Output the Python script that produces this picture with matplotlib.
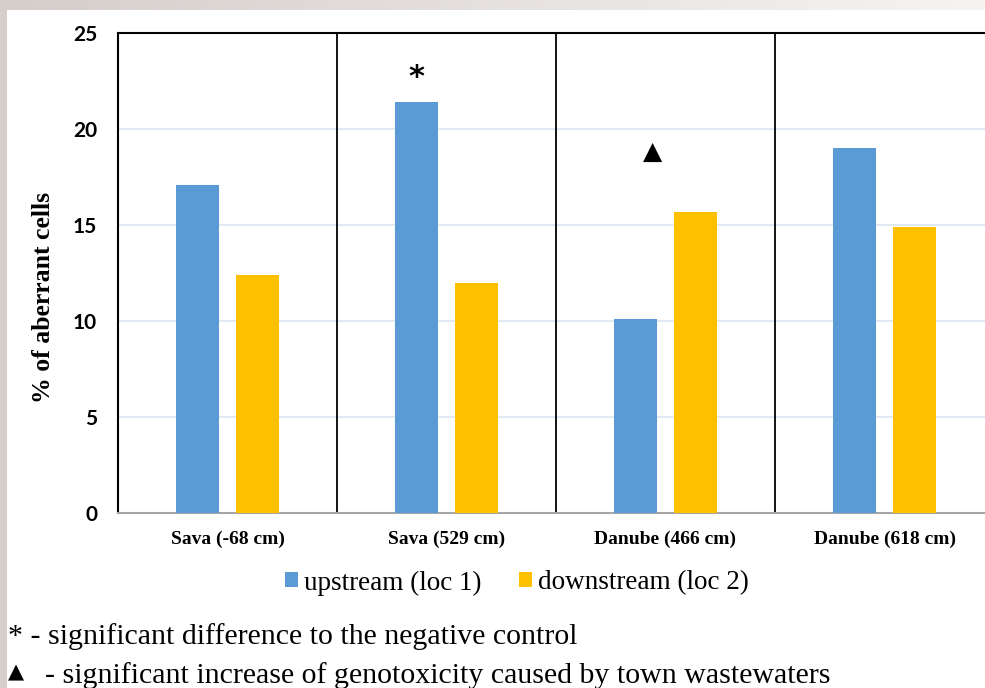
import matplotlib
matplotlib.use("Agg")
import matplotlib.pyplot as plt
import numpy as np

categories = ["Sava (-68 cm)", "Sava (529 cm)", "Danube (466 cm)", "Danube (618 cm)"]
upstream = [17.1, 21.4, 10.1, 19.0]
downstream = [12.4, 12.0, 15.7, 14.9]
series_names = ["upstream (loc 1)", "downstream (loc 2)"]
yticks = [0, 5, 10, 15, 20, 25]

BLUE = "#5B9BD5"
ORANGE = "#FFC000"

fig = plt.figure(figsize=(9.85, 6.88), dpi=100)

# slide-like background: gray gradient border on top and left
bg = fig.add_axes([0, 0, 1, 1], zorder=-10)
bg.set_axis_off()
W, H = 985, 688
img = np.ones((H, W, 3))
c0 = np.array([213, 206, 203]) / 255.0
c1 = np.array([246, 244, 242]) / 255.0
t = np.linspace(0, 1, W)[:, None]
grad = c0 * (1 - t) + c1 * t
img[:10, :, :] = grad[None, :, :]
img[:, :7, :] = c0
bg.imshow(img, aspect="auto", extent=[0, W, H, 0])
bg.set_xlim(0, W)
bg.set_ylim(H, 0)

ax = fig.add_axes([118 / 985, 1 - 513 / 688, 876 / 985, 480 / 688])
x = np.arange(len(categories))
w = 0.196
off = 0.139
ax.bar(x - off, upstream, width=w, color=BLUE, zorder=3, label=series_names[0])
ax.bar(x + off, downstream, width=w, color=ORANGE, zorder=3, label=series_names[1])

ax.set_xlim(-0.5, len(categories) - 0.5)
ax.set_ylim(0, 25)
ax.set_yticks(yticks)
ax.set_yticklabels([str(v) for v in yticks], fontfamily="Lato", fontweight="bold", fontsize=15)
ax.tick_params(axis="y", length=0, pad=15)
ax.set_xticks(x)
ax.set_xticklabels(categories, fontfamily="Liberation Serif", fontweight="bold", fontsize=14)
ax.tick_params(axis="x", length=0, pad=13)

for yv in yticks[1:-1]:
    ax.axhline(yv, color="#DCE6F2", lw=1.2, zorder=1)
for xv in [0.5, 1.5, 2.5]:
    ax.axvline(xv, color="black", lw=1.3, zorder=2)

for s in ["left", "top", "right"]:
    ax.spines[s].set_color("black")
    ax.spines[s].set_linewidth(1.5)
ax.spines["bottom"].set_color("#A6A6A6")
ax.spines["bottom"].set_linewidth(1.5)

ax.set_ylabel("% of aberrant cells", fontfamily="Liberation Serif", fontweight="bold", fontsize=18.5)
ax.yaxis.set_label_coords(-0.072, 0.45)

ax.text(1 - off, 22.7, "*", ha="center", va="center", fontsize=22, fontweight="bold", color="black")
ax.text(2 - 0.06, 18.8, "\u25B2", ha="center", va="center", fontsize=18, family="DejaVu Sans", color="black")

fig.legend(loc="center", bbox_to_anchor=(517 / 985, 1 - 583 / 688), ncol=2, frameon=False,
           prop={"family": "Liberation Serif", "size": 19.5}, handlelength=0.48, handleheight=0.48,
           handletextpad=0.2, columnspacing=1.4)

fig.text(8 / 985, 1 - 637 / 688, "* - significant difference to the negative control", ha="left", va="center",
         fontfamily="Liberation Serif", fontsize=21.5)
fig.text(8 / 985, 1 - 672 / 688, "\u25B2", ha="left", va="center", fontsize=15, family="DejaVu Sans")
fig.text(45 / 985, 1 - 676 / 688, "- significant increase of genotoxicity caused by town wastewaters", ha="left",
         va="center", fontfamily="Liberation Serif", fontsize=21.5)

fig.savefig("out.png", dpi=100)
